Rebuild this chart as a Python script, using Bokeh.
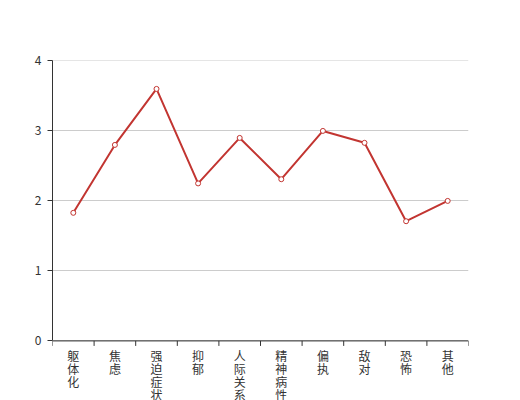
from bokeh.plotting import figure
from bokeh.models import Range1d, FixedTicker, ColumnDataSource
from bokeh.embed import file_html
from bokeh.resources import INLINE

categories = ["躯体化", "焦虑", "强迫症状", "抑郁", "人际关系敏感", "精神病性", "偏执", "敌对", "恐怖", "其他"]
values = [1.83, 2.80, 3.60, 2.25, 2.90, 2.31, 3.00, 2.83, 1.71, 2.00]
y_ticks = [0, 1, 2, 3, 4]

FONT = "Noto Sans CJK SC"
RED = "#c23531"
AXIS = "#333333"

n = len(categories)
xs = list(range(n))

PX = 70.0           # pixels per y unit
TOP = 4.006
FRAME_H = 340
y_start = TOP - FRAME_H / PX

p = figure(width=520, height=400, output_backend="svg", toolbar_location=None,
           x_range=Range1d(-0.5, n - 0.5), y_range=Range1d(y_start, TOP),
           x_axis_location=None,
           min_border_left=52, min_border_right=52, min_border_top=60, min_border_bottom=0)
p.outline_line_color = None
p.background_fill_color = "white"
p.border_fill_color = "white"
p.xgrid.grid_line_color = None

# y axis
p.yaxis.ticker = FixedTicker(ticks=y_ticks)
p.yaxis.bounds = (0, 4)
p.yaxis.minor_tick_line_color = None
p.yaxis.major_tick_out = 5
p.yaxis.major_tick_in = 0
p.yaxis.major_tick_line_color = AXIS
p.yaxis.axis_line_color = AXIS
p.yaxis.major_label_text_font = FONT
p.yaxis.major_label_text_font_size = "12px"
p.yaxis.major_label_text_color = AXIS
p.yaxis.major_label_standoff = 6
p.ygrid.grid_line_color = "#cccccc"
p.ygrid.ticker = FixedTicker(ticks=y_ticks)

# x axis drawn at y = 0
edges = [i - 0.5 for i in range(n + 1)]
p.segment(x0=[edges[0]], y0=[0], x1=[edges[-1]], y1=[0], line_color=AXIS, line_width=1)
p.segment(x0=edges, y0=[0] * len(edges), x1=edges, y1=[-5 / PX] * len(edges),
          line_color=AXIS, line_width=1)

# vertical category labels, one character per line
lx, ly, lt = [], [], []
for i, c in enumerate(categories):
    for j, ch in enumerate(c):
        lx.append(i)
        ly.append(-(6.5 + 12.7 * j) / PX)
        lt.append(ch)
p.text(x="x", y="y", text="t", source=ColumnDataSource(dict(x=lx, y=ly, t=lt)),
       text_align="center", text_baseline="top", text_font=FONT if False else None,
       text_font_size="12px", text_color=AXIS) if False else None
from bokeh.core.properties import value
p.text(x="x", y="y", text="t", source=ColumnDataSource(dict(x=lx, y=ly, t=lt)),
       text_align="center", text_baseline="top", text_font=value(FONT),
       text_font_size="12px", text_color=AXIS)

p.line(xs, values, line_color=RED, line_width=2)
p.scatter(xs, values, size=5, fill_color="white", line_color=RED, line_width=1)

open("out.html", "w").write(file_html(p, INLINE))
